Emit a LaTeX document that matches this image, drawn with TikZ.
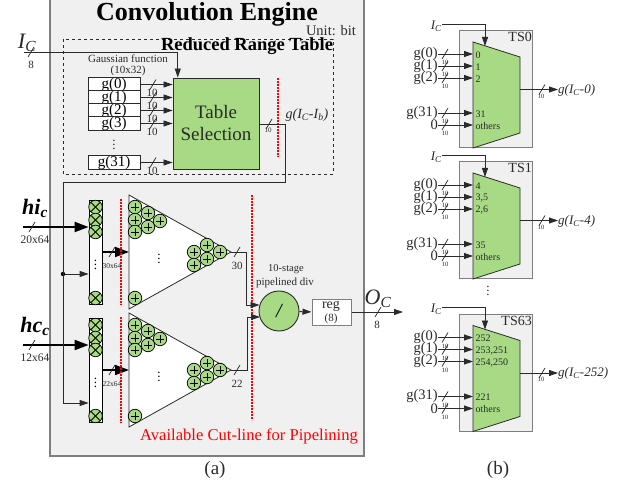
\documentclass[tikz,border=0pt]{standalone}
\usepackage{fontspec}
\setmainfont{Liberation Serif}
\usetikzlibrary{arrows.meta,positioning,calc}
\newcommand{\fsz}[1]{\fontsize{#1}{#1}\selectfont}
\newcommand{\subit}[2]{{\itshape #1\textsubscript{#2}}}
\definecolor{panelgray}{HTML}{F0F0F0}
\definecolor{cellgreen}{HTML}{A8DA85}
\definecolor{linegray}{HTML}{7F7F7F}
\definecolor{inkgray}{HTML}{2A2A2A}
\tikzset{
  wire/.style={draw=inkgray, line width=0.8pt},
  arrowwire/.style={wire, -{Triangle[length=9pt,width=6pt]}},
  thickwire/.style={draw=black, line width=2pt, -{Triangle[length=14pt,width=10pt]}},
  gbox/.style={draw=inkgray, fill=white, line width=0.8pt, minimum width=52pt, minimum height=13pt, inner sep=0pt, font=\fsz{15}},
  txt/.style={inner sep=0pt, text=inkgray},
  cutline/.style={draw=red, line width=1.4pt, dash pattern=on 2pt off 1pt},
  addcell/.style={circle, draw=black, fill=cellgreen, line width=0.7pt, minimum size=13.5pt, inner sep=0pt,
    path picture={\draw[line width=0.8pt] ($(path picture bounding box.west)!0.2!(path picture bounding box.east)$) -- ($(path picture bounding box.west)!0.8!(path picture bounding box.east)$)
      ($(path picture bounding box.south)!0.2!(path picture bounding box.north)$) -- ($(path picture bounding box.south)!0.8!(path picture bounding box.north)$);}},
  xcell/.style={circle, draw=black, fill=cellgreen, line width=0.7pt, minimum size=13.5pt, inner sep=0pt,
    path picture={\draw[line width=0.8pt] (path picture bounding box.north west) -- (path picture bounding box.south east)
      (path picture bounding box.north east) -- (path picture bounding box.south west);}},
  buscut/.pic={\draw[inkgray, line width=0.7pt] (-3pt,-5pt) -- (3pt,5pt);}
}
\begin{document}
\begin{tikzpicture}[x=1pt, y=-1pt]
  \useasboundingbox (0,0) rectangle (630,484);

  % Engine panel
  \fill[panelgray] (50,-3) rectangle (364,456);
  \draw[linegray, line width=1.2pt] (50,-3) -- (50,456) -- (364,456) -- (364,-3);
  \node[txt, font=\fsz{26}\bfseries, text=black] (title) at (207,14) {Convolution Engine};
  \node[txt, font=\fsz{14.5}] (unit) at (331,31) {Unit: bit};

  % Reduced range table
  \draw[inkgray, dashed, line width=0.7pt] (63,39) rectangle (333,174);
  \node[txt, font=\fsz{18.5}\bfseries, text=black] (rrt) at (247,46.5) {Reduced Range Table};
  \node[txt, font=\fsz{11}] (gausa) at (128,59) {Gaussian function};
  \node[txt, font=\fsz{11}] (gausb) at (128,71) {(10x32)};
  \node[draw=inkgray, fill=cellgreen, line width=0.9pt, minimum width=86pt, minimum height=91pt, inner sep=0pt] (tablesel) at (216,123.5) {};
  \node[txt, font=\fsz{19}] (tablea) at (216,112) {Table};
  \node[txt, font=\fsz{19}] (tableb) at (216,134) {Selection};

  % Gaussian entries
  \foreach \name/\ypos/\lbl in {gzero/84.5/g(0), gone/97.5/g(1), gtwo/110.5/g(2), gthree/123.5/g(3), glast/162.5/g(31)} {
    \node[gbox] (\name) at (114,\ypos) {\lbl};
    \draw[arrowwire] (\name.east) -- (\name.east -| tablesel.west);
    \pic at (153,\ypos) {buscut};
    \node[txt, font=\fsz{11}] (\name-w) at (152,\ypos+8) {10};
  }
  \node[txt, font=\fsz{13}] (gdots) at (114,142) {$\vdots$};

  % Index input
  \node[txt, font=\fsz{22}] (icin) at (27,43) {\subit{I}{C}};
  \coordinate (icstart) at (24,52);
  \draw[arrowwire] (icstart) -| ($(tablesel.north west)!0.06!(tablesel.north east)$);
  \pic at (31,52) {buscut};
  \node[txt, font=\fsz{11}] (icw) at (31,65) {8};

  % Table output and range cut
  \draw[cutline] (277.8,78) -- (277.8,157);
  \coordinate (bend) at (63,182);
  \draw[wire] (tablesel.east |- 0,124) -- (285,124) -- (285,182) -- (bend);
  \pic at (269,124) {buscut};
  \node[txt, font=\fsz{7}] (tablew) at (268,130) {10};
  \node[txt, font=\fsz{14}] (gout) at (307,115) {{\itshape g(}\subit{I}{C}{\itshape -}\subit{I}{b}{\itshape )}};

  % Multiplier columns and adder trees
  \foreach \dy/\inname/\inw/\outw/\sumw in {0/\textbf{\subit{hi}{c}}/20x64/30x64/30, 118/\textbf{\subit{hc}{c}}/12x64/22x64/22} {
    \begin{scope}[shift={(0,\dy)}]
      \node[draw=black, fill=white, line width=0.8pt, minimum width=13pt, minimum height=104pt, inner sep=0pt] (col\dy) at (95.5,252) {};
      \foreach \py [count=\n] in {207,220,232,298}
        \node[xcell] (mul\dy-\n) at (95.5,\py) {};
      \node[txt, font=\fsz{13}, text=black] (cdots\dy) at (95.5,262) {$\vdots$};
      \node[txt, font=\fsz{22}\bfseries, text=black] (hin\dy) at (35,208) {\inname};
      \coordinate (hstart\dy) at (23,227);
      \draw[thickwire] (hstart\dy) -- (hstart\dy -| col\dy.west);
      \pic at (32,227) {buscut};
      \node[txt, font=\fsz{11.5}] (hw\dy) at (35,240) {\inw};
      % adder tree
      \draw[draw=inkgray, fill=white, line width=0.8pt] (129,195) coordinate (tritop\dy) -- (231,252) coordinate (tip\dy) -- (129,309) -- cycle;
      \foreach \px/\py [count=\n] in {135/207,135/220,135/232,148/213,148/227,160/221,194/252,194/265,207/245,207/259,220/252,135/298}
        \node[addcell] (add\dy-\n) at (\px,\py) {};
      \node[txt, font=\fsz{13}, text=black] (tdots\dy) at (159,256) {$\vdots$};
      % column to tree
      \coordinate (treein\dy) at (129,252);
      \draw[thickwire, line width=1.6pt] (col\dy.east |- treein\dy) -- (treein\dy);
      \draw[cutline] (121,199) -- (121,305);
      \pic at (112,252) {buscut};
      \node[txt, font=\fsz{7.5}] (cw\dy) at (112,266) {\outw};
      \pic at (237,252) {buscut};
      \node[txt, font=\fsz{11}] (sw\dy) at (237,266) {\sumw};
    \end{scope}
  }

  % Shared feed into the columns
  \node[circle, fill=black, inner sep=0pt, minimum size=4.5pt] (feeddot) at (63,274) {};
  \draw[arrowwire] (feeddot) -- (feeddot -| col0.west);
  \coordinate (feedend) at (63,403);
  \draw[wire] (bend) -- (feedend);
  \draw[arrowwire] (feedend) -- (feedend -| col118.west);

  % Divider and register
  \draw[cutline] (252,195) -- (252,420);
  \node[circle, draw=inkgray, fill=cellgreen, line width=0.9pt, minimum size=40pt, inner sep=0pt, font=\fsz{20}\itshape, text=black] (divider) at (279,311) {/};
  \node[txt, font=\fsz{10.5}] (diva) at (286,269) {10-stage};
  \node[txt, font=\fsz{11}] (divb) at (285,283) {pipelined div};
  \node[draw=linegray, fill=white, line width=1pt, minimum width=39pt, minimum height=26pt, inner sep=0pt] (regbox) at (331.5,312.5) {};
  \node[txt, font=\fsz{14}] (rega) at (331,306.5) {reg};
  \node[txt, font=\fsz{11}] (regb) at (331,319) {(8)};
  \coordinate (inup) at (259.5,305);
  \coordinate (indown) at (260,317);
  \draw[arrowwire] (tip0) -- (246,252) -- (246,305) -- (inup);
  \draw[arrowwire] (tip118) -- (247,370) -- (247,317) -- (indown);
  \draw[arrowwire] (divider) -- (regbox);
  \coordinate (ocend) at (403,312);
  \draw[arrowwire] (regbox.east |- ocend) -- (ocend);
  \pic at (378,312) {buscut};
  \node[txt, font=\fsz{22}] (ocout) at (378,299) {\subit{O}{C}};
  \node[txt, font=\fsz{11}] (ocw) at (377,325) {8};
  \node[txt, font=\fsz{16.6}, text=red] (cutnote) at (249,436) {Available Cut-line for Pipelining};

  % Table selectors
  \foreach \dy/\tsname/\la/\lb/\lc/\ld/\oname in {0/TS0/0/1/2/31/0, 131/TS1/4/{3,5}/{2,6}/35/4, 283.5/TS63/252/{253,251}/{254,250}/221/252} {
    \begin{scope}[shift={(0,\dy)}]
      \fill[panelgray] (459,30.5) rectangle (532,148);
      \draw[linegray, line width=1pt] (459,30.5) rectangle (532,148);
      \node[txt, font=\fsz{14}, anchor=east] (\tsname) at (532,37) {\tsname};
      \draw[draw=inkgray, fill=cellgreen, line width=0.8pt] (473,42) coordinate (\tsname-top) -- (520,57) -- (520,133) -- (473,148) -- cycle;
      \node[txt, font=\fsz{13}, anchor=east] (\tsname-ic) at (442,26) {\subit{I}{C}};
      \coordinate (\tsname-sel) at (485,46);
      \draw[arrowwire] (\tsname-ic.east |- 0,24) -- (485,24) -- (\tsname-sel);
      \foreach \inlbl/\ypos/\muxlbl [count=\n] in {g(0)/54/\la, g(1)/66/\lb, g(2)/78/\lc, g(31)/113/\ld, 0/125/others} {
        \node[txt, font=\fsz{14.5}, anchor=east] (\tsname-in\n) at (438,\ypos) {\inlbl};
        \node[txt, font=\fsz{10}, anchor=west] (\tsname-port\n) at (475.5,\ypos+1) {\muxlbl};
        \draw[arrowwire] (\tsname-in\n.east) -- (473,\ypos);
        \pic at (445,\ypos) {buscut};
        \node[txt, font=\fsz{6.5}] (\tsname-w\n) at (445,\ypos+8.5) {10};
      }
      \node[txt, font=\fsz{13}, anchor=west] (\tsname-out) at (558,90) {{\itshape g(}\subit{I}{C}{\itshape -\oname)}};
      \draw[arrowwire] (520,89.5) -- (\tsname-out.west |- 0,89.5);
      \pic at (542,89.5) {buscut};
      \node[txt, font=\fsz{6.5}] (\tsname-ow) at (541,96) {10};
    \end{scope}
  }
  \node[txt, font=\fsz{13}] (tsdots) at (488,288) {$\vdots$};

  % Captions
  \node[txt, font=\fsz{19}] (capa) at (215,470) {(a)};
  \node[txt, font=\fsz{19}] (capb) at (498,470) {(b)};
\end{tikzpicture}
\end{document}
